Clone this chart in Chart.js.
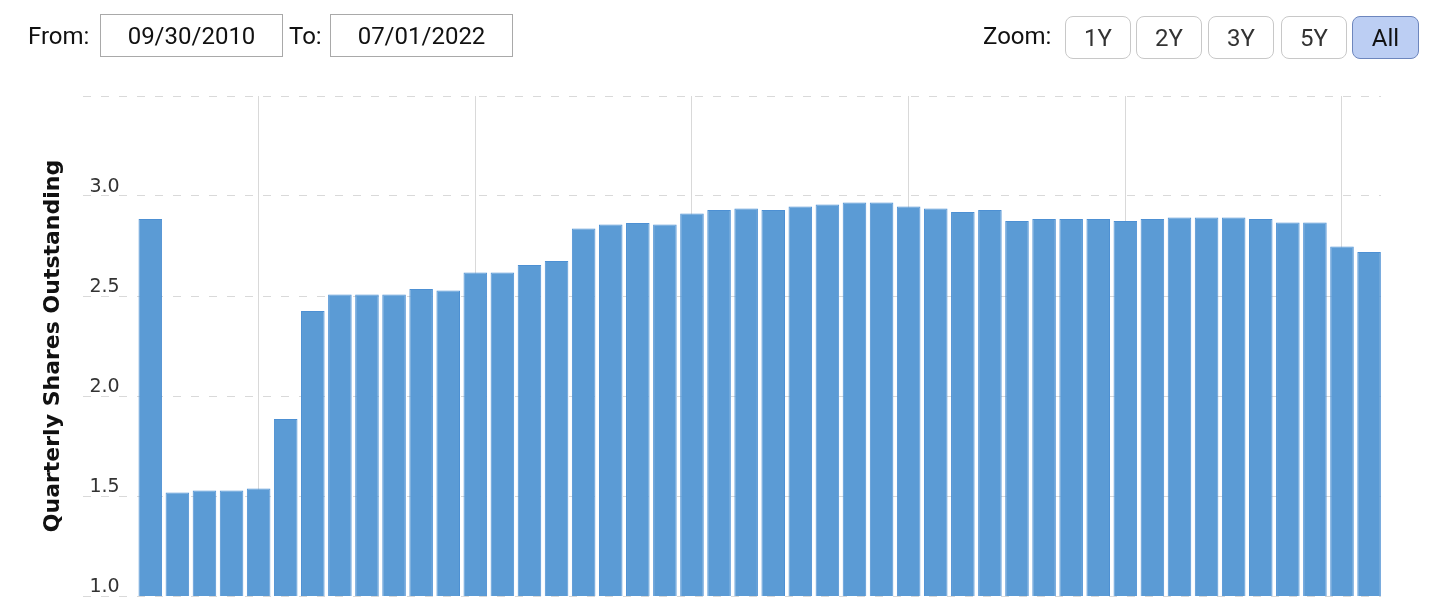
<!DOCTYPE html>
<html><head><meta charset="utf-8">
<script src="https://cdn.jsdelivr.net/npm/chart.js@4.4.0/dist/chart.umd.min.js"></script>
<style>
html,body{margin:0;padding:0;background:#fff;width:1456px;height:616px;overflow:hidden;font-family:Roboto,Arial,sans-serif;}
#wrap{position:relative;width:1456px;height:616px;}
canvas{position:absolute;left:0;top:0;}
.lbl{position:absolute;font-size:24px;color:#111;line-height:30px;top:21px;}
.box{position:absolute;top:14px;width:183px;height:43px;border:1px solid #a9a9a9;box-sizing:border-box;font-size:24px;color:#111;display:flex;align-items:center;justify-content:center;}
.btn{position:absolute;top:16px;width:66px;height:43px;box-sizing:border-box;border:1px solid #c8c8c8;border-radius:8px;background:#fff;font-size:24px;color:#333;display:flex;align-items:center;justify-content:center;}
.btn.active{background:#bccef3;border-color:#6d86bd;color:#111;}
</style></head>
<body>
<div id="wrap">
<canvas id="c" width="1456" height="616"></canvas>
<div class="lbl" style="left:28px">From:</div>
<div class="box" style="left:100px">09/30/2010</div>
<div class="lbl" style="left:289px">To:</div>
<div class="box" style="left:330px">07/01/2022</div>
<div class="lbl" style="left:983px">Zoom:</div>
<div class="btn" style="left:1065px">1Y</div>
<div class="btn" style="left:1136px">2Y</div>
<div class="btn" style="left:1208px">3Y</div>
<div class="btn" style="left:1281px">5Y</div>
<div class="btn active" style="left:1352px;width:67px">All</div>
</div>
<script>
const quarters = [
 '2010-12-31',
 '2011-03-31','2011-06-30','2011-09-30','2011-12-31',
 '2012-03-31','2012-06-30','2012-09-30','2012-12-31',
 '2013-03-31','2013-06-30','2013-09-30','2013-12-31',
 '2014-03-31','2014-06-30','2014-09-30','2014-12-31',
 '2015-03-31','2015-06-30','2015-09-30','2015-12-31',
 '2016-03-31','2016-06-30','2016-09-30','2016-12-31',
 '2017-03-31','2017-06-30','2017-09-30','2017-12-31',
 '2018-03-31','2018-06-30','2018-09-30','2018-12-31',
 '2019-03-31','2019-06-30','2019-09-30','2019-12-31',
 '2020-03-31','2020-06-30','2020-09-30','2020-12-31',
 '2021-03-31','2021-06-30','2021-09-30','2021-12-31',
 '2022-03-31'
];
const sharesOutstanding = [
 2.885,1.518,1.528,1.528,1.537,1.885,2.425,2.508,2.508,2.508,
 2.535,2.527,2.618,2.618,2.655,2.675,2.838,2.857,2.865,2.857,
 2.912,2.930,2.938,2.930,2.948,2.957,2.967,2.967,2.948,2.938,
 2.920,2.930,2.875,2.885,2.885,2.885,2.875,2.885,2.893,2.893,
 2.893,2.885,2.867,2.867,2.747,2.720
];
const yTickValues = [1.0, 1.5, 2.0, 2.5, 3.0, 3.5];
const yHiddenLabels = [3.5];
const gridYears = ['2012','2014','2016','2018','2020','2022'];
const yTitle = 'Quarterly Shares Outstanding';

const gridIdx = gridYears.map(y => quarters.indexOf((+y - 1) + '-12-31'));
const points = sharesOutstanding.map((v, i) => ({x: i, y: v}));

new Chart(document.getElementById('c').getContext('2d'), {
  type: 'bar',
  data: {
    labels: quarters,
    datasets: [{
      data: points,
      backgroundColor: '#5b9bd5',
      borderColor: '#4d90d3',
      borderWidth: 1,
      categoryPercentage: 1,
      barPercentage: 0.87
    }]
  },
  options: {
    responsive: false,
    animation: false,
    devicePixelRatio: 1,
    layout: {padding: {top: 96, bottom: 20, left: 30, right: 75}},
    plugins: {legend: {display: false}, tooltip: {enabled: false}},
    scales: {
      x: {
        type: 'linear',
        min: -2.47,
        max: quarters.length - 1 + 0.44,
        offset: false,
        grid: {offset: false, color: '#d9d9d9', lineWidth: 1, drawTicks: false},
        border: {display: false},
        ticks: {display: false},
        afterBuildTicks: s => { s.ticks = gridIdx.map(v => ({value: v})); }
      },
      y: {
        min: yTickValues[0],
        max: yTickValues[yTickValues.length - 1],
        grid: {color: '#d9d9d9', lineWidth: 1, drawTicks: false},
        border: {display: false, dash: [8, 10]},
        afterBuildTicks: s => { s.ticks = yTickValues.map(v => ({value: v})); },
        ticks: {
          mirror: true,
          padding: 6,
          labelOffset: -9,
          color: '#333',
          font: {family: 'DejaVu Sans', size: 19},
          callback: v => yHiddenLabels.includes(v) ? '' : Number(v).toFixed(1)
        },
        title: {
          display: true,
          text: yTitle,
          color: '#111',
          font: {family: 'DejaVu Sans', size: 22, weight: 'bold'},
          padding: {top: 10, bottom: 5}
        }
      }
    }
  }
});
</script>
</body></html>
